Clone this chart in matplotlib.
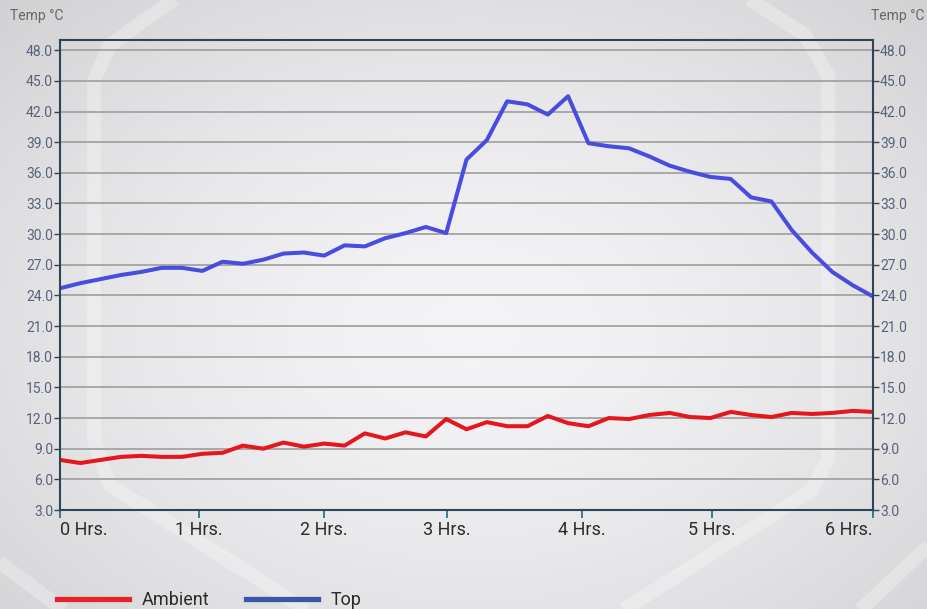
import numpy as np
import matplotlib.pyplot as plt
from matplotlib.lines import Line2D
from matplotlib.ticker import FormatStrFormatter

# ---------------------------------------------------------
# LOGGED TEMPERATURES (one sample every few minutes)
# ---------------------------------------------------------
ambient = [7.9, 7.6, 7.9, 8.2, 8.3, 8.2, 8.2, 8.5, 8.6, 9.3,
           9.0, 9.6, 9.2, 9.5, 9.3, 10.5, 10.0, 10.6, 10.2, 11.9,
           10.9, 11.6, 11.2, 11.2, 12.2, 11.5, 11.2, 12.0, 11.9, 12.3,
           12.5, 12.1, 12.0, 12.6, 12.3, 12.1, 12.5, 12.4, 12.5, 12.7,
           12.6]
top = [24.7, 25.2, 25.6, 26.0, 26.3, 26.7, 26.7, 26.4, 27.3, 27.1,
       27.5, 28.1, 28.2, 27.9, 28.9, 28.8, 29.6, 30.1, 30.7, 30.1,
       37.3, 39.2, 43.0, 42.7, 41.7, 43.5, 38.9, 38.6, 38.4, 37.6,
       36.7, 36.1, 35.6, 35.4, 33.6, 33.2, 30.4, 28.2, 26.3, 25.0,
       23.9]
sample = np.arange(len(top))

# sample index at which each whole hour falls
hour_pos = [0, 6.84, 12.99, 19.04, 25.68, 32.08, 40]
hour_labels = ["0 Hrs.", "1 Hrs.", "2 Hrs.", "3 Hrs.", "4 Hrs.", "5 Hrs.", "6 Hrs."]
temp_ticks = np.arange(3, 49, 3)

series_names = ["Ambient", "Top"]
line_colors = ["#e5161d", "#4a4ce0"]
legend_colors = ["#e8222a", "#3b55a8"]

plt.rcParams["font.family"] = ["Roboto", "DejaVu Sans"]

W, H = 927, 609
fig = plt.figure(figsize=(W / 100, H / 100), dpi=100)

# =========================================================
# BACKDROP (soft radial glow + light frame strokes)
# =========================================================
bg = fig.add_axes([0, 0, 1, 1], zorder=0)
yy, xx = np.mgrid[0:H, 0:W]
r = np.sqrt(((xx - 470) / 620.0) ** 2 + ((yy - 330) / 430.0) ** 2)
v = np.clip(0.955 - 0.12 * r ** 1.6, 0, 1)
img = np.dstack([v, v, v + 0.008])
bg.imshow(np.clip(img, 0, 1), extent=(0, W, H, 0), aspect="auto")
bg.set_xlim(0, W)
bg.set_ylim(H, 0)
bg.axis("off")

strokes = [
    [(215, -30), (110, 45), (94, 80), (94, 440), (110, 485), (330, 625)],
    [(720, -20), (805, 35), (828, 75), (828, 460), (812, 490), (600, 625)],
    [(-10, 555), (70, 615)],
    [(940, 535), (855, 615)],
]
for pts in strokes:
    px, py = zip(*pts)
    bg.plot(px, py, color="white", lw=10, alpha=0.28,
            solid_joinstyle="round", solid_capstyle="butt")

# =========================================================
# MAIN PLOT
# =========================================================
ax = fig.add_axes([60 / W, 1 - 510 / H, 813 / W, 470 / H], zorder=1)
ax.patch.set_alpha(0)

for val, name, col in zip([ambient, top], series_names, line_colors):
    ax.plot(sample, val, color=col, lw=2.9, solid_joinstyle="round", label=name)

ax.set_xlim(0, 40)
ax.set_ylim(3, 49)
ax.set_yticks(temp_ticks)
ax.yaxis.set_major_formatter(FormatStrFormatter("%.1f"))
ax.set_xticks(hour_pos)
ax.set_xticklabels(hour_labels)

ax.grid(True, axis="y", color="#a3a3a3", lw=1.3)
ax.set_axisbelow(True)

frame = "#2d4657"
for s in ax.spines.values():
    s.set_color(frame)
    s.set_linewidth(1.5)

ax.tick_params(axis="y", left=True, right=True, labelleft=True, labelright=True,
               length=4, width=1, color=frame, pad=1,
               labelsize=10, labelcolor="#56627c")
ax.tick_params(axis="x", length=6, width=1.2, color="#2d5f80", pad=2,
               labelsize=13, labelcolor="#2b2b2b")

xt = ax.get_xticklabels()
xt[0].set_ha("left")
xt[-1].set_ha("right")

fig.text(10 / W, 1 - 16 / H, "Temp °C", fontsize=10, color="#666666", va="center")
fig.text(924 / W, 1 - 16 / H, "Temp °C", fontsize=10, color="#666666",
         va="center", ha="right")

# =========================================================
# LEGEND
# =========================================================
handles = [Line2D([], [], color=c, lw=3.8) for c in legend_colors]
fig.legend(handles, series_names, loc="lower left",
           bbox_to_anchor=(57 / W, 0.0), ncol=2, frameon=False,
           fontsize=13, handlelength=4.0, handletextpad=0.7,
           columnspacing=2.0, borderpad=0, borderaxespad=0,
           labelcolor="#2b2b2b")

fig.savefig("out.png", dpi=100)
